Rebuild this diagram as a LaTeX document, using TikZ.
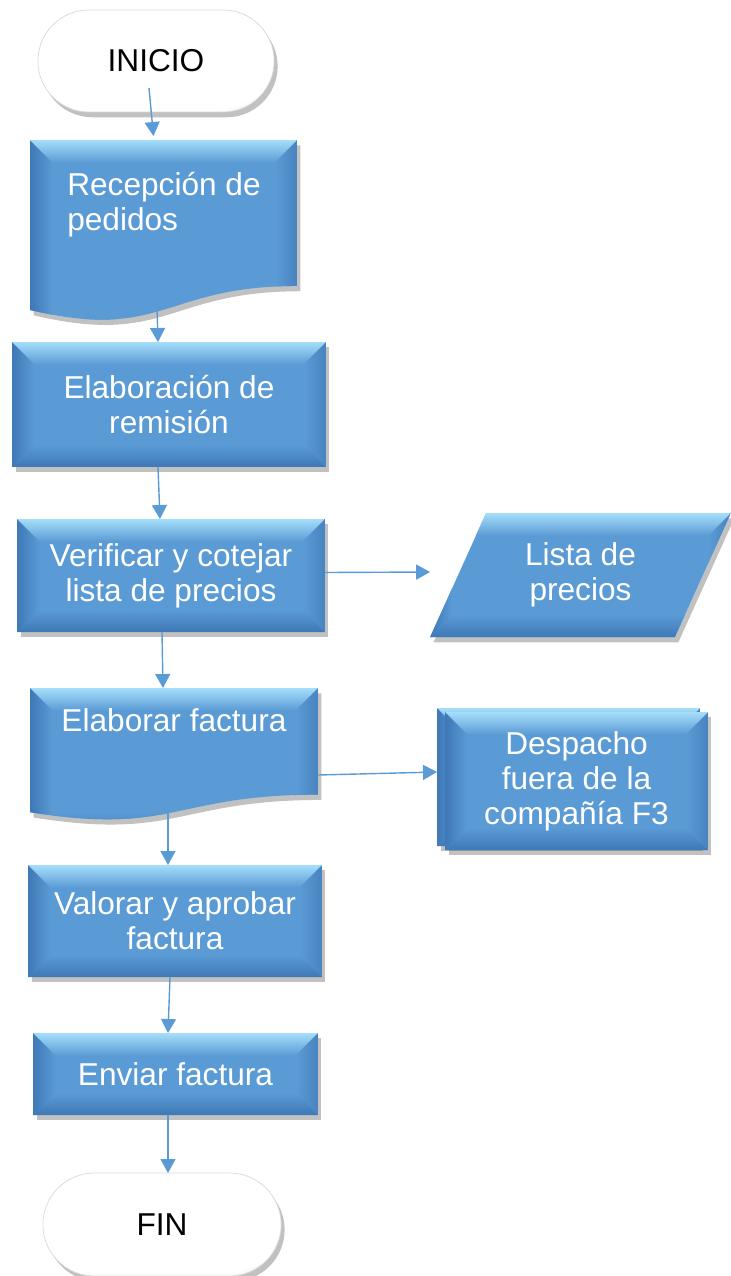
\documentclass[tikz,border=0pt]{standalone}
\usepackage{fontspec}
\setmainfont{Liberation Sans}
\usetikzlibrary{calc,arrows.meta,positioning,shapes.geometric,shapes.misc,shadows,backgrounds}
\definecolor{flowblue}{RGB}{91,155,213}
\definecolor{flowtop}{RGB}{165,222,250}
\definecolor{flowdark}{RGB}{62,120,182}
\definecolor{termgray}{RGB}{175,175,175}
\pgfdeclareradialshading{termshade}{\pgfpoint{-4bp}{6bp}}{color(0bp)=(white); color(30bp)=(white); color(50bp)=(termgray)}
\newcommand{\bev}{0.45cm}
\newcommand{\flowfont}{\fontsize{18}{20}\selectfont}
\tikzset{
  bevel/.style={path picture={
      \path (path picture bounding box.north west) coordinate (pnw)
            (path picture bounding box.north east) coordinate (pne)
            (path picture bounding box.south west) coordinate (psw)
            (path picture bounding box.south east) coordinate (pse);
      \shade[left color=flowdark, right color=flowblue] (pnw) -- ([shift={(\bev,-\bev)}]pnw) -- ([shift={(\bev,\bev)}]psw) -- (psw) -- cycle;
      \shade[left color=flowblue, right color=flowdark!70!flowblue] (pne) -- ([shift={(-\bev,-\bev)}]pne) -- ([shift={(-\bev,\bev)}]pse) -- (pse) -- cycle;
      \shade[top color=flowblue, bottom color=flowdark] (psw) -- ([shift={(\bev,\bev)}]psw) -- ([shift={(-\bev,\bev)}]pse) -- (pse) -- cycle;
      \shade[top color=flowtop, bottom color=flowblue] (pnw) -- (pne) -- ([shift={(-\bev,-\bev)}]pne) -- ([shift={(\bev,-\bev)}]pnw) -- cycle;
    }},
  shadowed/.style={drop shadow={shadow xshift=2pt, shadow yshift=-3pt, opacity=.35, fill=black!70}},
  procbox/.style={rectangle, fill=flowblue, bevel, shadowed, text=white, align=center, font=\flowfont, inner sep=2pt, outer sep=0pt},
  datbox/.style={procbox, trapezium, trapezium left angle=64, trapezium right angle=116, trapezium stretches=true},
  docbox/.style={rectangle, inner sep=0pt, outer sep=0pt},
  doctext/.style={text=white, align=left, font=\flowfont, inner sep=0pt},
  termbox/.style={rounded rectangle, shading=termshade, draw=gray!30, shadowed, font=\flowfont, text=black, outer sep=0pt},
  arrow/.style={draw=flowblue, line width=0.8pt, -{Triangle[length=0.28cm, width=0.3cm]}}
}
\begin{document}
\begin{tikzpicture}[x=0.02cm, y=-0.02cm]
  \useasboundingbox (0,0) rectangle (731,1276);

  % terminals and steps
  \node [termbox, minimum width=4.96cm, minimum height=2.04cm] (inicio) at (156,61) {INICIO};

  \node [docbox, minimum width=5.34cm, minimum height=3.64cm] (recep) at (163.5,231) {};
  \path [fill=flowblue, bevel, shadowed] (recep.north west) -- (recep.north east)
    -- ($(recep.north east)!0.802!(recep.south east)$)
    .. controls ($(recep.north)!0.802!(recep.south)$) and ($(recep.north)!1.107!(recep.south)$)
    .. ($(recep.north west)!0.934!(recep.south west)$) -- cycle;
  \node [doctext] (recept) at (164,204.5) {Recepción de\\pedidos};

  \node [procbox, minimum width=6.28cm, minimum height=2.5cm] (remis) at (169,404.5) {Elaboración de\\remisión};
  \node [procbox, minimum width=6.16cm, minimum height=2.26cm] (verif) at (171,575.5) {Verificar y cotejar\\lista de precios};
  \node [datbox, minimum width=6.02cm, minimum height=2.48cm] (lista) at (580.5,575) {Lista de\\precios};

  \node [docbox, minimum width=5.76cm, minimum height=2.66cm] (fact) at (174,754.5) {};
  \path [fill=flowblue, bevel, shadowed] (fact.north west) -- (fact.north east)
    -- ($(fact.north east)!0.802!(fact.south east)$)
    .. controls ($(fact.north)!0.802!(fact.south)$) and ($(fact.north)!1.107!(fact.south)$)
    .. ($(fact.north west)!0.934!(fact.south west)$) -- cycle;
  \node [doctext, align=center] (factt) at (174,720) {Elaborar factura};

  \node [procbox, minimum width=5.26cm, minimum height=2.76cm] (desp) at (576.5,781) {Despacho\\fuera de la\\compañía F3};
  \begin{scope}[on background layer]
    \path [fill=flowblue, bevel, shadowed] ($(desp.north west)+(-8,-4)$) rectangle ($(desp.south east)+(-8,-4)$);
  \end{scope}

  \node [procbox, minimum width=5.88cm, minimum height=2.24cm] (valor) at (175,921) {Valorar y aprobar\\factura};
  \node [procbox, minimum width=5.7cm, minimum height=1.64cm] (envia) at (175.5,1074) {Enviar factura};
  \node [termbox, minimum width=5cm, minimum height=2.06cm] (fin) at (162,1224.5) {FIN};

  % connectors
  \draw [arrow] ($(inicio.south)+(-7,-24)$) -- ($(recep.north)+(-10,-4)$);
  \draw [arrow] ($(recep.south)+(-6.5,-14)$) -- ($(remis.north)+(-11,0)$);
  \draw [arrow] ($(remis.south)+(-11,0)$) -- ($(verif.north)+(-11,0)$);
  \draw [arrow] ($(verif.east)+(0,-3)$) -- ($(lista.west)+(-28,-3)$);
  \draw [arrow] ($(verif.south)+(-9,0)$) -- ($(fact.north)+(-11,0)$);
  \draw [arrow] ($(fact.east)+(0,20.5)$) -- ($(desp.west)+(-8,-9)$);
  \draw [arrow] ($(fact.south)+(-6,-9)$) -- ($(valor.north)+(-7,0)$);
  \draw [arrow] ($(valor.south)+(-5,0)$) -- ($(envia.north)+(-7.5,0)$);
  \draw [arrow] ($(envia.south)+(-7.5,0)$) -- ($(fin.north)+(6,0)$);
\end{tikzpicture}
\end{document}
